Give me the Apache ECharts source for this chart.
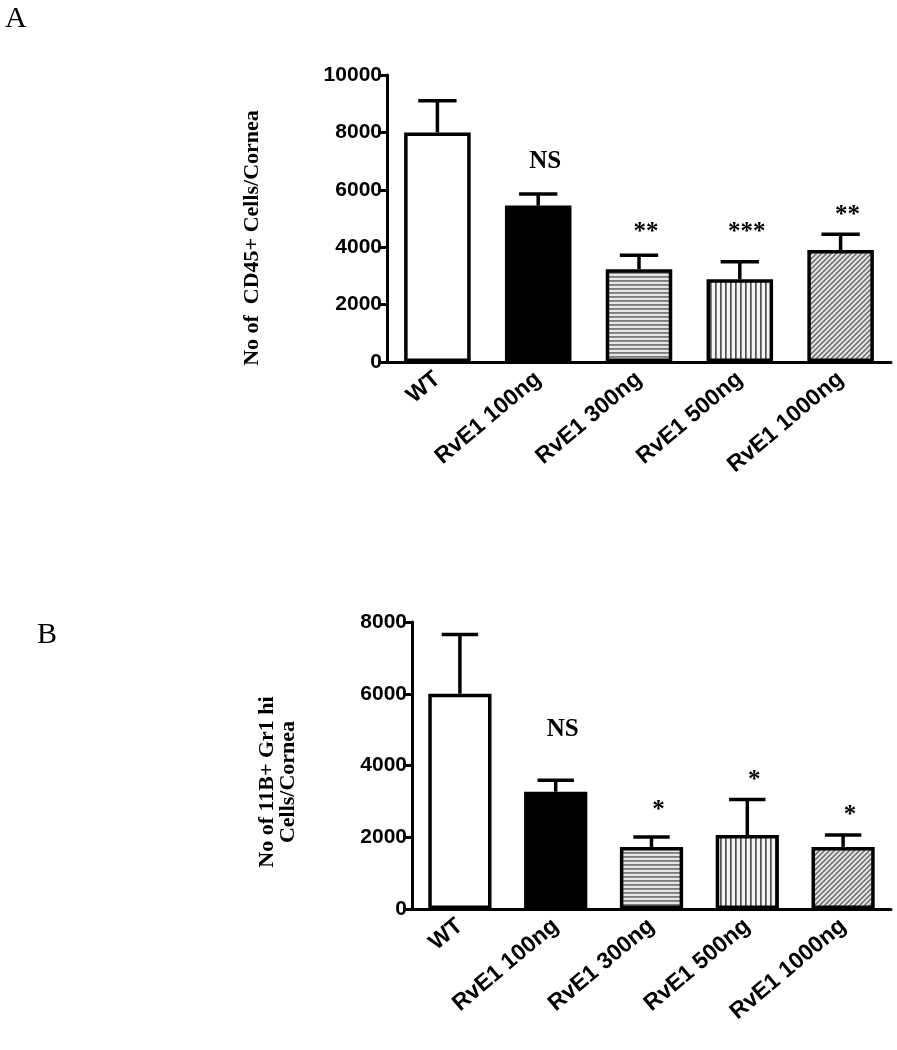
<!DOCTYPE html>
<html>
<head>
<meta charset="utf-8">
<script src="https://cdn.jsdelivr.net/npm/echarts@6/dist/echarts.min.js"></script>
<style>
  html, body { margin: 0; padding: 0; background: #fff; }
  #main { width: 897px; height: 1050px; }
</style>
</head>
<body>
<div id="main"></div>
<script>
// groups on the x axis (same for both panels)
const categories = ['WT', 'RvE1 100ng', 'RvE1 300ng', 'RvE1 500ng', 'RvE1 1000ng']

// panel A: CD45+ cells per cornea
const cd45Mean = [8000, 5450, 3230, 2880, 3900]
const cd45Err = [1100, 400, 490, 610, 550]
const cd45Sig = ['', 'NS', '**', '***', '**']
const cd45SigY = [0, 7000, 4500, 4500, 5100]
const cd45Ticks = [0, 2000, 4000, 6000, 8000, 10000]

// panel B: 11B+ Gr1 hi cells per cornea
const grMean = [6000, 3270, 1730, 2060, 1730]
const grErr = [1650, 320, 280, 990, 330]
const grSig = ['', 'NS', '*', '*', '*']
const grSigY = [0, 5000, 2750, 3580, 2610]
const grTicks = [0, 2000, 4000, 6000, 8000]

const sans = 'Liberation Sans'
const serif = 'Liberation Serif'

// little canvas tiles for the hatched bars
function pattern(kind) {
  let c = document.createElement('canvas')
  let ctx
  if (kind === 'h') {
    c.width = 8; c.height = 4
    ctx = c.getContext('2d')
    ctx.fillStyle = '#e6e6e6'; ctx.fillRect(0, 0, 8, 4)
    ctx.fillStyle = '#7a7a7a'; ctx.fillRect(0, 0, 8, 1.8)
  } else if (kind === 'v') {
    c.width = 5; c.height = 8
    ctx = c.getContext('2d')
    ctx.fillStyle = '#f4f4f4'; ctx.fillRect(0, 0, 5, 8)
    ctx.fillStyle = '#505050'; ctx.fillRect(0, 0, 1.7, 8)
  } else {
    c.width = 5; c.height = 5
    ctx = c.getContext('2d')
    ctx.fillStyle = '#e2e2e2'; ctx.fillRect(0, 0, 5, 5)
    ctx.strokeStyle = '#666'; ctx.lineWidth = 1.4
    ctx.beginPath()
    ctx.moveTo(-1, 6); ctx.lineTo(6, -1)
    ctx.moveTo(-1, 1); ctx.lineTo(1, -1)
    ctx.moveTo(4, 6); ctx.lineTo(6, 4)
    ctx.stroke()
  }
  return { image: c, repeat: 'repeat' }
}

const fills = ['#ffffff', '#000000', pattern('h'), pattern('v'), pattern('d')]

function barData(values) {
  return values.map((v, i) => ({
    value: v,
    itemStyle: { color: fills[i], borderColor: '#000', borderWidth: 3.5 }
  }))
}

function errData(mean, err) {
  return mean.map((m, i) => [i, m, m + err[i]])
}

function sigData(sig, sigY) {
  return sig.map((s, i) => ({ value: [i, sigY[i]], label: { formatter: s } }))
}

function renderErr(params, api) {
  let p0 = api.coord([api.value(0), api.value(1)])
  let p1 = api.coord([api.value(0), api.value(2)])
  let half = api.size([1, 0])[0] * 0.19
  let st = { stroke: '#000', lineWidth: 3.5 }
  return {
    type: 'group',
    children: [
      { type: 'line', shape: { x1: p0[0], y1: p0[1], x2: p1[0], y2: p1[1] }, style: st },
      { type: 'line', shape: { x1: p1[0] - half, y1: p1[1], x2: p1[0] + half, y2: p1[1] }, style: st }
    ]
  }
}

function xAxisOpt(gridIndex) {
  return {
    type: 'category',
    gridIndex: gridIndex,
    data: categories,
    axisLine: { lineStyle: { color: '#000', width: 3 } },
    axisTick: { alignWithLabel: true, length: 8, lineStyle: { width: 3, color: '#000' } },
    axisLabel: {
      rotate: 40,
      margin: 14,
      color: '#000',
      fontFamily: sans,
      fontWeight: 'bold',
      fontSize: 23
    },
    splitLine: { show: false }
  }
}

function yAxisOpt(gridIndex, max) {
  return {
    type: 'value',
    gridIndex: gridIndex,
    min: 0,
    max: max,
    interval: 2000,
    axisLine: { show: true, lineStyle: { color: '#000', width: 3 } },
    axisTick: { show: true, length: 9, lineStyle: { width: 3, color: '#000' } },
    axisLabel: {
      margin: 5,
      color: '#000',
      fontFamily: sans,
      fontWeight: 'bold',
      fontSize: 21,
      formatter: v => String(v)
    },
    splitLine: { show: false }
  }
}

function sigSeries(idx, sig, sigY) {
  return {
    type: 'scatter',
    xAxisIndex: idx,
    yAxisIndex: idx,
    symbolSize: 0,
    silent: true,
    z: 5,
    itemStyle: { color: '#000', opacity: 1 },
    label: {
      show: true,
      position: 'inside',
      offset: [7, 0],
      color: '#000',
      opacity: 1,
      textBorderWidth: 0,
      fontFamily: serif,
      fontWeight: 'bold',
      fontSize: 25
    },
    data: sigData(sig, sigY)
  }
}

let myChart = echarts.init(document.getElementById('main'))
myChart.setOption({
  backgroundColor: '#fff',
  animation: false,
  grid: [
    { left: 387, right: 6, top: 75, height: 287 },
    { left: 412, right: 6, top: 622, height: 287 }
  ],
  xAxis: [xAxisOpt(0), xAxisOpt(1)],
  yAxis: [yAxisOpt(0, cd45Ticks[cd45Ticks.length - 1]), yAxisOpt(1, grTicks[grTicks.length - 1])],
  graphic: [
    {
      type: 'text', left: 5, top: 4,
      style: { text: 'A', font: '30px "Liberation Serif"', fill: '#000' }
    },
    {
      type: 'text', left: 37, top: 620,
      style: { text: 'B', font: '30px "Liberation Serif"', fill: '#000' }
    },
    {
      type: 'text', x: 252, y: 238, rotation: Math.PI / 2,
      style: {
        text: 'No of  CD45+ Cells/Cornea',
        font: 'bold 22px "Liberation Serif"',
        fill: '#000', align: 'center', verticalAlign: 'middle'
      }
    },
    {
      type: 'text', x: 278, y: 782, rotation: Math.PI / 2,
      style: {
        text: 'No of 11B+ Gr1 hi\nCells/Cornea',
        font: 'bold 22px "Liberation Serif"',
        lineHeight: 21,
        fill: '#000', align: 'center', verticalAlign: 'middle'
      }
    }
  ],
  series: [
    {
      type: 'bar', xAxisIndex: 0, yAxisIndex: 0,
      barWidth: '66%',
      data: barData(cd45Mean)
    },
    {
      type: 'custom', xAxisIndex: 0, yAxisIndex: 0,
      renderItem: renderErr, z: 4,
      data: errData(cd45Mean, cd45Err)
    },
    sigSeries(0, cd45Sig, cd45SigY),
    {
      type: 'bar', xAxisIndex: 1, yAxisIndex: 1,
      barWidth: '66%',
      data: barData(grMean)
    },
    {
      type: 'custom', xAxisIndex: 1, yAxisIndex: 1,
      renderItem: renderErr, z: 4,
      data: errData(grMean, grErr)
    },
    sigSeries(1, grSig, grSigY)
  ]
})
</script>
</body>
</html>
